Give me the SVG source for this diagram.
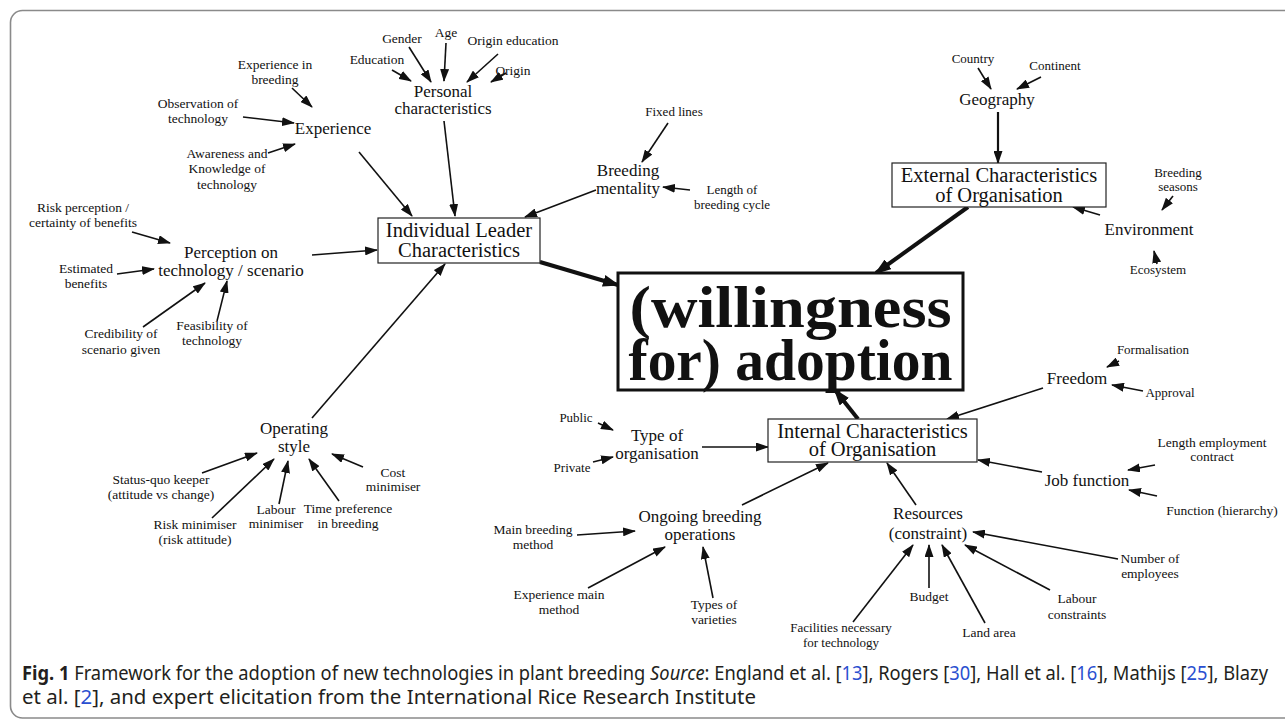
<svg xmlns="http://www.w3.org/2000/svg" width="1285" height="719" viewBox="0 0 1285 719">
<defs>
<marker id="a" markerUnits="userSpaceOnUse" markerWidth="13" markerHeight="9" refX="12" refY="4.5" orient="auto"><path d="M0,0 L13,4.5 L0,9 z" fill="#111"/></marker>
<marker id="A" markerUnits="userSpaceOnUse" markerWidth="17" markerHeight="12" refX="15" refY="6" orient="auto"><path d="M0,0 L17,6 L0,12 z" fill="#111"/></marker>
</defs>
<style>
text{font-family:"Liberation Serif","Times New Roman",serif;fill:#111;text-anchor:middle}
.t13{font-size:13px}.t14{font-size:13.5px}.t17{font-size:17px}.t21{font-size:20.5px}
.big{font-size:60px;font-weight:bold}
.box{fill:#fff;stroke:#222;stroke-width:1.2}
.c line{stroke:#111;stroke-width:1.6;marker-end:url(#a)}
.c line.th{stroke-width:4;marker-end:url(#A)}
.c line.md{stroke-width:2.2}
.cap{font-family:"Noto Sans","Open Sans",sans-serif;font-size:19px;fill:#231f20;text-anchor:start}
.lk{fill:#2a4fd0}
</style>
<rect width="1285" height="719" fill="#fff"/>
<path d="M1290,10.5 H22.5 A12,12 0 0 0 10.5,22.5 V706 A12,12 0 0 0 22.5,718 H1290" fill="none" stroke="#8a8a8a" stroke-width="1.6"/>

<g class="c" id="connectors">
<line x1="292" y1="88" x2="312" y2="107"/>
<line x1="243" y1="117" x2="294" y2="123"/>
<line x1="268" y1="153" x2="295" y2="144"/>
<line x1="392" y1="70" x2="411" y2="81"/>
<line x1="409" y1="47" x2="431" y2="82"/>
<line x1="446" y1="43" x2="444" y2="81"/>
<line x1="498" y1="54" x2="467" y2="82"/>
<line x1="506" y1="73" x2="491" y2="82"/>
<line x1="359" y1="152" x2="412" y2="216"/>
<line x1="444" y1="121" x2="455" y2="216"/>
<line x1="668" y1="123" x2="642" y2="162"/>
<line x1="690" y1="190" x2="663" y2="187"/>
<line x1="596" y1="190" x2="525" y2="217"/>
<line x1="132" y1="232" x2="170" y2="243"/>
<line x1="117" y1="274" x2="154" y2="269"/>
<line x1="143" y1="327" x2="205" y2="283"/>
<line x1="217" y1="321" x2="227" y2="281"/>
<line x1="312" y1="255" x2="377" y2="250"/>
<line x1="312" y1="418" x2="445" y2="264"/>
<line x1="202" y1="473" x2="257" y2="453"/>
<line x1="212" y1="518" x2="274" y2="459"/>
<line x1="279" y1="504" x2="288" y2="461"/>
<line x1="339" y1="501" x2="309" y2="459"/>
<line x1="363" y1="467" x2="332" y2="454"/>
<line class="th" x1="540" y1="262" x2="618" y2="285"/>
<line x1="978" y1="68" x2="991" y2="89"/>
<line x1="1041" y1="77" x2="1017" y2="89"/>
<line class="md" x1="998" y1="112" x2="998" y2="163"/>
<line class="th" x1="968" y1="207" x2="876" y2="273"/>
<line x1="1173" y1="196" x2="1162" y2="210"/>
<line x1="1157" y1="264" x2="1154" y2="251"/>
<line x1="1100" y1="215" x2="1073" y2="207"/>
<line class="th" x1="858" y1="419" x2="835" y2="390"/>
<line x1="598" y1="423" x2="613" y2="430"/>
<line x1="593" y1="462" x2="613" y2="457"/>
<line x1="702" y1="447" x2="768" y2="447"/>
<line x1="742" y1="505" x2="828" y2="463"/>
<line x1="577" y1="535" x2="635" y2="531"/>
<line x1="588" y1="588" x2="665" y2="547"/>
<line x1="713" y1="598" x2="703" y2="547"/>
<line x1="1119" y1="361" x2="1107" y2="367"/>
<line x1="1143" y1="391" x2="1112" y2="385"/>
<line x1="1043" y1="388" x2="947" y2="419"/>
<line x1="1155" y1="465" x2="1128" y2="470"/>
<line x1="1157" y1="496" x2="1129" y2="490"/>
<line x1="1042" y1="472" x2="978" y2="460"/>
<line x1="916" y1="505" x2="887" y2="463"/>
<line x1="1118" y1="559" x2="973" y2="532"/>
<line x1="1050" y1="590" x2="965" y2="545"/>
<line x1="985" y1="623" x2="942" y2="545"/>
<line x1="929" y1="588" x2="929" y2="545"/>
<line x1="853" y1="622" x2="913" y2="545"/>
</g>

<g id="exp-breeding"><text class="t14" x="275" y="69">Experience in</text><text class="t14" x="275" y="84">breeding</text></g>
<g id="observation"><text class="t14" x="198" y="108">Observation of</text><text class="t14" x="198" y="123">technology</text></g>
<g id="experience"><text class="t17" x="333" y="134">Experience</text></g>
<g id="awareness"><text class="t14" x="227" y="158">Awareness and</text><text class="t14" x="227" y="173">Knowledge of</text><text class="t14" x="227" y="189">technology</text></g>
<g id="gender"><text class="t14" x="402" y="43">Gender</text></g>
<g id="age"><text class="t14" x="446" y="37">Age</text></g>
<g id="origin-education"><text class="t14" x="513" y="45">Origin education</text></g>
<g id="education"><text class="t14" x="377" y="64">Education</text></g>
<g id="origin"><text class="t14" x="513" y="75">Origin</text></g>
<g id="personal"><text class="t17" x="443" y="97">Personal</text><text class="t17" x="443" y="114">characteristics</text></g>
<g id="fixed-lines"><text class="t13" x="674" y="116">Fixed lines</text></g>
<g id="breeding-mentality"><text class="t17" x="628" y="176">Breeding</text><text class="t17" x="628" y="194">mentality</text></g>
<g id="length-cycle"><text class="t13" x="732" y="194">Length of</text><text class="t13" x="732" y="209">breeding cycle</text></g>
<g id="ilc"><rect class="box" x="378" y="218" width="162" height="45"/><text class="t21" x="459" y="237">Individual Leader</text><text class="t21" x="459" y="257">Characteristics</text></g>
<g id="risk-perception"><text class="t14" x="83" y="212">Risk perception /</text><text class="t14" x="83" y="227">certainty of benefits</text></g>
<g id="perception"><text class="t17" x="231" y="258">Perception on</text><text class="t17" x="231" y="276">technology / scenario</text></g>
<g id="estimated"><text class="t14" x="86" y="273">Estimated</text><text class="t14" x="86" y="288">benefits</text></g>
<g id="credibility"><text class="t14" x="121" y="338">Credibility of</text><text class="t14" x="121" y="354">scenario given</text></g>
<g id="feasibility"><text class="t14" x="212" y="330">Feasibility of</text><text class="t14" x="212" y="345">technology</text></g>
<g id="operating"><text class="t17" x="294" y="434">Operating</text><text class="t17" x="294" y="452">style</text></g>
<g id="status-quo"><text class="t14" x="161" y="484">Status-quo keeper</text><text class="t14" x="161" y="499">(attitude vs change)</text></g>
<g id="risk-min"><text class="t14" x="195" y="529">Risk minimiser</text><text class="t14" x="195" y="544">(risk attitude)</text></g>
<g id="labour-min"><text class="t14" x="276" y="514">Labour</text><text class="t14" x="276" y="528">minimiser</text></g>
<g id="time-pref"><text class="t14" x="348" y="513">Time preference</text><text class="t14" x="348" y="528">in breeding</text></g>
<g id="cost-min"><text class="t14" x="393" y="477">Cost</text><text class="t14" x="393" y="491">minimiser</text></g>
<g id="adoption"><rect x="618" y="273" width="345" height="117" fill="#fff" stroke="#111" stroke-width="3"/><text class="big" x="790.5" y="327" textLength="322" lengthAdjust="spacingAndGlyphs">(willingness</text><text class="big" x="790.5" y="380" textLength="324" lengthAdjust="spacingAndGlyphs">for) adoption</text></g>
<g id="country"><text class="t13" x="973" y="63">Country</text></g>
<g id="continent"><text class="t13" x="1055" y="70">Continent</text></g>
<g id="geography"><text class="t17" x="997" y="105">Geography</text></g>
<g id="external"><rect class="box" x="892" y="163" width="214" height="44"/><text class="t21" x="999" y="182">External Characteristics</text><text class="t21" x="999" y="202">of Organisation</text></g>
<g id="breeding-seasons"><text class="t13" x="1178" y="177">Breeding</text><text class="t13" x="1178" y="191">seasons</text></g>
<g id="environment"><text class="t17" x="1149" y="235">Environment</text></g>
<g id="ecosystem"><text class="t13" x="1158" y="274">Ecosystem</text></g>
<g id="public"><text class="t13" x="576" y="422">Public</text></g>
<g id="private"><text class="t13" x="572" y="472">Private</text></g>
<g id="type-org"><text class="t17" x="657" y="441">Type of</text><text class="t17" x="657" y="459">organisation</text></g>
<g id="internal"><rect class="box" x="768" y="419" width="209" height="43"/><text class="t21" x="872.5" y="438">Internal Characteristics</text><text class="t21" x="872.5" y="456">of Organisation</text></g>
<g id="ongoing"><text class="t17" x="700" y="522">Ongoing breeding</text><text class="t17" x="700" y="540">operations</text></g>
<g id="main-method"><text class="t14" x="533" y="534">Main breeding</text><text class="t14" x="533" y="549">method</text></g>
<g id="exp-main"><text class="t14" x="559" y="599">Experience main</text><text class="t14" x="559" y="614">method</text></g>
<g id="types-varieties"><text class="t14" x="714" y="609">Types of</text><text class="t14" x="714" y="624">varieties</text></g>
<g id="facilities"><text class="t13" x="841" y="632">Facilities necessary</text><text class="t13" x="841" y="647">for technology</text></g>
<g id="formalisation"><text class="t13" x="1153" y="354">Formalisation</text></g>
<g id="freedom"><text class="t17" x="1077" y="384">Freedom</text></g>
<g id="approval"><text class="t13" x="1170" y="397">Approval</text></g>
<g id="length-employment"><text class="t14" x="1212" y="447">Length employment</text><text class="t14" x="1212" y="461">contract</text></g>
<g id="job-function"><text class="t17" x="1087" y="486">Job function</text></g>
<g id="function-hierarchy"><text class="t14" x="1222" y="515">Function (hierarchy)</text></g>
<g id="resources"><text class="t17" x="928" y="519">Resources</text><text class="t17" x="928" y="539">(constraint)</text></g>
<g id="number-employees"><text class="t14" x="1150" y="563">Number of</text><text class="t14" x="1150" y="578">employees</text></g>
<g id="budget"><text class="t14" x="929" y="601">Budget</text></g>
<g id="labour-constraints"><text class="t14" x="1077" y="603">Labour</text><text class="t14" x="1077" y="619">constraints</text></g>
<g id="land-area"><text class="t14" x="989" y="637">Land area</text></g>

<g id="caption">
<text class="cap" x="22" y="680" textLength="1246" lengthAdjust="spacingAndGlyphs"><tspan font-weight="bold">Fig. 1</tspan>  Framework for the adoption of new technologies in plant breeding <tspan font-style="italic">Source</tspan>: England et al. [<tspan class="lk">13</tspan>], Rogers [<tspan class="lk">30</tspan>], Hall et al. [<tspan class="lk">16</tspan>], Mathijs [<tspan class="lk">25</tspan>], Blazy</text>
<text class="cap" x="22" y="704" textLength="734" lengthAdjust="spacingAndGlyphs">et al. [<tspan class="lk">2</tspan>], and expert elicitation from the International Rice Research Institute</text>
</g>
</svg>
